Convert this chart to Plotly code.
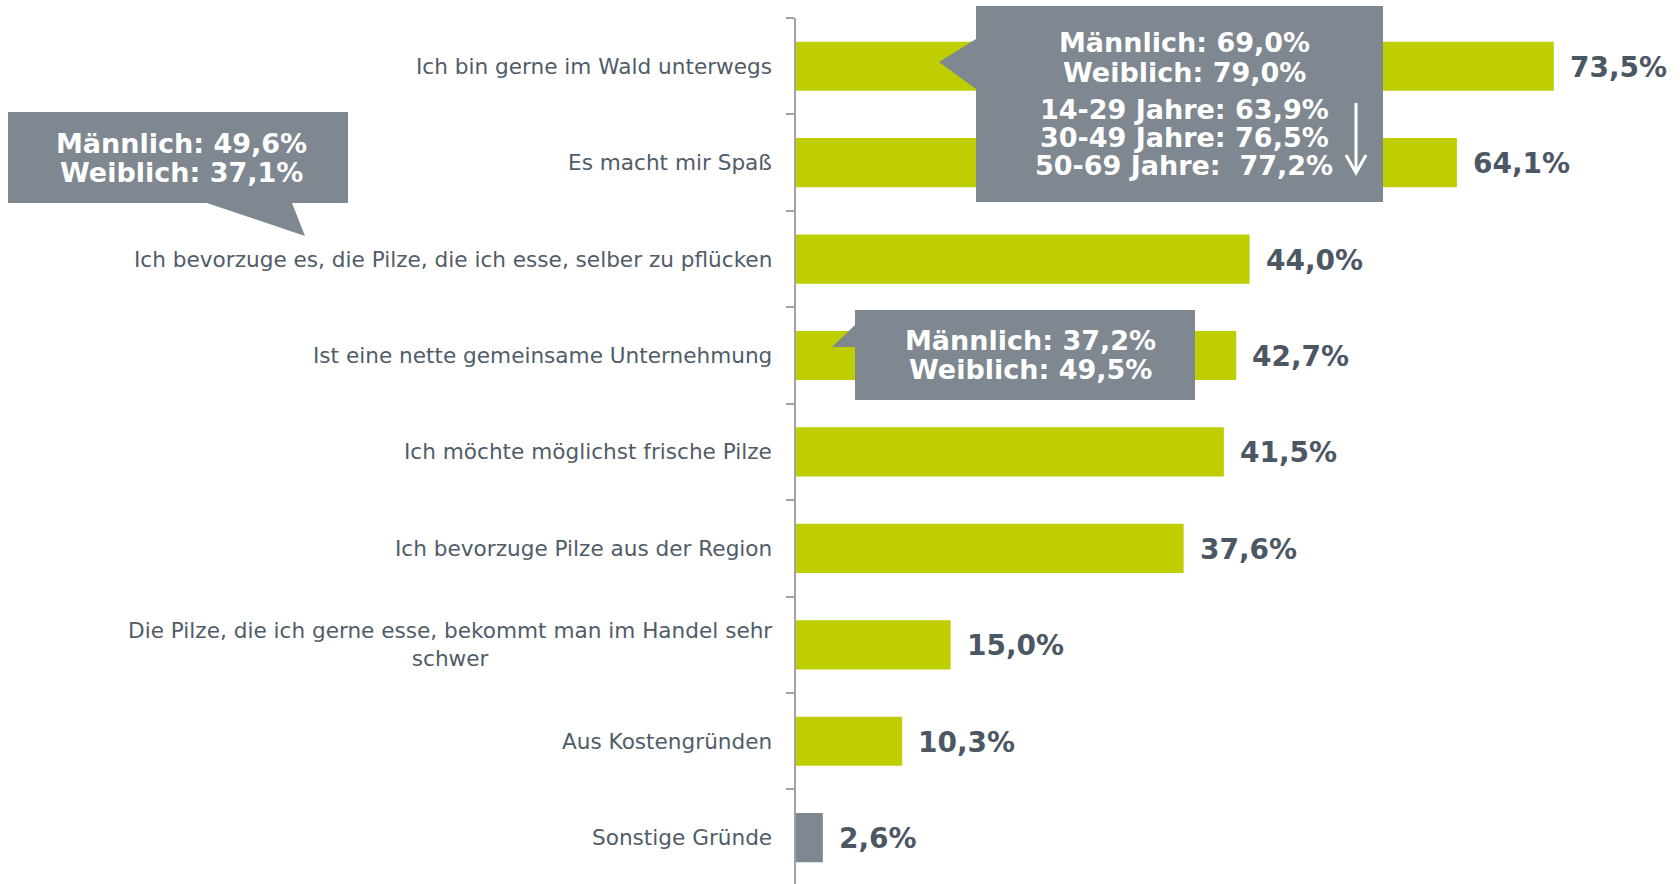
import plotly.graph_objects as go

# ---------------- data ----------------
categories = [
    "Ich bin gerne im Wald unterwegs",
    "Es macht mir Spaß",
    "Ich bevorzuge es, die Pilze, die ich esse, selber zu pflücken",
    "Ist eine nette gemeinsame Unternehmung",
    "Ich möchte möglichst frische Pilze",
    "Ich bevorzuge Pilze aus der Region",
    "Die Pilze, die ich gerne esse, bekommt man im Handel sehr schwer",
    "Aus Kostengründen",
    "Sonstige Gründe",
]
display_labels = [
    "Ich bin gerne im Wald unterwegs",
    "Es macht mir Spaß",
    "Ich bevorzuge es, die Pilze, die ich esse, selber zu pflücken",
    "Ist eine nette gemeinsame Unternehmung",
    "Ich möchte möglichst frische Pilze",
    "Ich bevorzuge Pilze aus der Region",
    "Die Pilze, die ich gerne esse, bekommt man im Handel sehr<br>schwer",
    "Aus Kostengründen",
    "Sonstige Gründe",
]
values = [73.5, 64.1, 44.0, 42.7, 41.5, 37.6, 15.0, 10.3, 2.6]

callout_top_lines = ["Männlich: 69,0%", "Weiblich: 79,0%",
                     "14-29 Jahre: 63,9%", "30-49 Jahre: 76,5%", "50-69 Jahre:&nbsp; 77,2%"]
callout_left_lines = ["Männlich: 49,6%", "Weiblich: 37,1%"]
callout_mid_lines = ["Männlich: 37,2%", "Weiblich: 49,5%"]

# ---------------- style ----------------
W, H = 1680, 884
L, T, R, B = 796, 18, 0, 0
PW, PH = W - L - R, H - T - B
PX_PER_PCT = 10.31
BAND_PX = 96.43

GREEN = "#BFCE00"
GRAY_BAR = "#7F8790"
BOX = "#7F8790"
TXT = "#4C5764"
LBL = "#505C68"
AXIS = "#9EA3A8"


def px(x):
    return (x - L) / PW


def py(y):
    return 1 - (y - T) / PH


def path(points):
    return "M " + " L ".join(f"{px(x)},{py(y)}" for x, y in points) + " Z"


bar_colors = [GREEN] * (len(values) - 1) + [GRAY_BAR]

fig = go.Figure(go.Bar(
    x=values, y=categories, orientation="h",
    marker=dict(color=bar_colors, line=dict(width=0)),
    hoverinfo="skip",
))

annotations = []
# category labels
for cat, lab in zip(categories, display_labels):
    annotations.append(dict(
        x=0, y=cat, xref="x", yref="y", text=lab, showarrow=False,
        xanchor="right", yanchor="middle", align="center", xshift=-22,
        font=dict(family="DejaVu Sans", size=21.6, color=LBL),
    ))
# value labels
for cat, v in zip(categories, values):
    annotations.append(dict(
        x=v, y=cat, xref="x", yref="y",
        text="<b>" + f"{v:.1f}".replace(".", ",") + "%</b>",
        showarrow=False, xanchor="left", yanchor="middle", xshift=14, yshift=-1,
        font=dict(family="DejaVu Sans", size=28, color=TXT),
    ))


def add_lines(lines, cx, ys, size=27):
    for t, yy in zip(lines, ys):
        annotations.append(dict(
            x=px(cx), y=py(yy), xref="paper", yref="paper", text="<b>" + t + "</b>",
            showarrow=False, xanchor="center", yanchor="middle",
            font=dict(family="DejaVu Sans", size=size, color="white"),
        ))


add_lines(callout_top_lines, 1184, [43, 72, 109, 137, 165])
add_lines(callout_left_lines, 181, [143, 172])
add_lines(callout_mid_lines, 1030, [340, 369])

shapes = [
    dict(type="path", xref="paper", yref="paper", fillcolor=BOX, line=dict(width=0),
         path=path([(976, 6), (1383, 6), (1383, 202), (976, 202), (976, 89), (939, 62), (976, 39)])),
    dict(type="path", xref="paper", yref="paper", fillcolor=BOX, line=dict(width=0),
         path=path([(8, 112), (348, 112), (348, 203), (292, 203), (305, 236), (207, 203), (8, 203)])),
    dict(type="path", xref="paper", yref="paper", fillcolor=BOX, line=dict(width=0),
         path=path([(855, 310), (1195, 310), (1195, 400), (855, 400), (855, 347), (832, 347), (855, 325)])),
    # arrow
    dict(type="line", xref="paper", yref="paper", x0=px(1356), x1=px(1356), y0=py(103), y1=py(172),
         line=dict(color="white", width=3)),
    dict(type="path", xref="paper", yref="paper",
         path=f"M {px(1346)},{py(155)} L {px(1356)},{py(173)} L {px(1366)},{py(155)}",
         line=dict(color="white", width=3)),
]

fig.update_layout(
    width=W, height=H,
    margin=dict(l=L, r=R, t=T, b=B, pad=0),
    paper_bgcolor="white", plot_bgcolor="white",
    showlegend=False, bargap=0.49,
    xaxis=dict(visible=False, range=[0, PW / PX_PER_PCT], fixedrange=True),
    yaxis=dict(
        type="category", categoryorder="array", categoryarray=categories,
        range=[-0.5 + PH / BAND_PX, -0.5],
        showline=True, linecolor=AXIS, linewidth=2,
        ticks="outside", ticklen=8, tickcolor=AXIS, tickwidth=1.5,
        tickson="boundaries", showticklabels=False, showgrid=False, zeroline=False,
    ),
    annotations=annotations, shapes=shapes,
)

fig.write_html("out.html", config={"displayModeBar": False},
               post_script="document.body.style.margin='0';document.body.style.overflow='hidden';")
